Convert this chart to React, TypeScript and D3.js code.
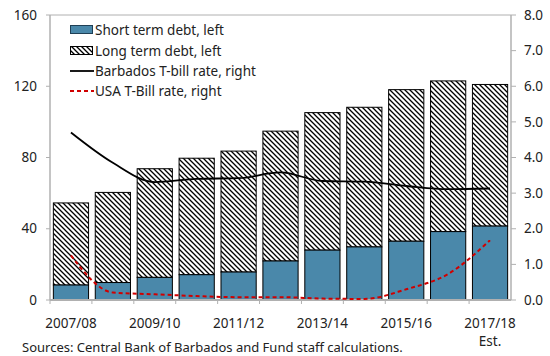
import React from "react";
import * as d3 from "d3";

const categories = ["2007/08","2008/09","2009/10","2010/11","2011/12","2012/13","2013/14","2014/15","2015/16","2016/17","2017/18"];
const tickLabels = ["2007/08","","2009/10","","2011/12","","2013/14","","2015/16","","2017/18"];
const shortTerm = [8.4, 9.8, 12.7, 14.2, 15.7, 21.9, 28.0, 29.8, 33.0, 38.4, 41.5];
const totalDebt = [54.5, 60.4, 73.7, 79.6, 83.6, 94.8, 105.2, 108.2, 118.1, 123.0, 121.0];
const barbadosRate = [4.70, 3.85, 3.31, 3.40, 3.42, 3.58, 3.34, 3.32, 3.20, 3.11, 3.13];
const usaRate = [1.25, 0.21, 0.16, 0.11, 0.08, 0.08, 0.04, 0.03, 0.30, 0.73, 1.68];
const leftTicks = [0, 40, 80, 120, 160];
const rightTicks = [0, 1, 2, 3, 4, 5, 6, 7, 8];

const W = 550, H = 356;
const L = 50, R = 511, T = 15, B = 300;
const FONT = "'Noto Sans', sans-serif";
const BLUE = "#4a88aa";
const AXIS = "#b0b0b0";

export default function App() {
  const x = d3.scaleBand<string>().domain(categories).range([L, R]).paddingInner(0.16).paddingOuter(0.08);
  const yL = d3.scaleLinear().domain([0, 160]).range([B, T]);
  const yR = d3.scaleLinear().domain([0, 8]).range([B, T]);
  const cx = (i: number) => (x(categories[i]) as number) + x.bandwidth() / 2;
  const barbLine = d3.line<number>().x((_, i) => cx(i)).y(d => yR(d)).curve(d3.curveMonotoneX);
  const usaLine = d3.line<number>().x((_, i) => cx(i)).y(d => yR(d)).curve(d3.curveMonotoneX);
  const step = x.step();

  return (
    <svg width={W} height={H} style={{ position: "absolute", left: 0, top: 0, background: "#fff" }} fontFamily={FONT}>
      <defs>
        <pattern id="hatch" patternUnits="userSpaceOnUse" width="5" height="5">
          <rect width="5" height="5" fill="#fff" />
          <path d="M-1,-1 L6,6 M-1,4 L1,6 M4,-1 L6,1" stroke="#000" strokeWidth="1.3" />
        </pattern>
      </defs>
      <line x1={L} x2={R} y1={T} y2={T} stroke={AXIS} strokeWidth={1} />
      <line x1={L} x2={L} y1={T} y2={B} stroke={AXIS} strokeWidth={1.5} />
      <line x1={R} x2={R} y1={T} y2={B} stroke={AXIS} strokeWidth={1.5} />
      {leftTicks.map(t => (
        <g key={"l" + t}>
          <line x1={L - 4} x2={L} y1={yL(t)} y2={yL(t)} stroke={AXIS} />
          <text x={37} y={yL(t)} dy="0.35em" textAnchor="end" fontSize={13.5} fill="#222">{t}</text>
        </g>
      ))}
      {rightTicks.map(t => (
        <g key={"r" + t}>
          <line x1={R} x2={R + 5} y1={yR(t)} y2={yR(t)} stroke={AXIS} />
          <text x={524} y={yR(t)} dy="0.35em" textAnchor="start" fontSize={13.5} fill="#222">{t.toFixed(1)}</text>
        </g>
      ))}
      {categories.map((c, i) => (
        <g key={c}>
          <rect x={x(c)} y={yL(totalDebt[i])} width={x.bandwidth()} height={yL(shortTerm[i]) - yL(totalDebt[i])} fill="url(#hatch)" stroke="#000" strokeWidth={1} />
          <rect x={x(c)} y={yL(shortTerm[i])} width={x.bandwidth()} height={B - yL(shortTerm[i])} fill={BLUE} stroke="#000" strokeWidth={1} />
        </g>
      ))}
      <line x1={L} x2={R} y1={B} y2={B} stroke={AXIS} strokeWidth={2} />
      {categories.map((c) => (
        <line key={"bt" + c} x1={(x(c) as number) - step * 0.08} x2={(x(c) as number) - step * 0.08} y1={B} y2={B + 4} stroke={AXIS} />
      ))}
      {tickLabels.map((t, i) => t ? (
        <text key={"xl" + i} x={cx(i)} y={323} dy="0.35em" textAnchor="middle" fontSize={13.5} fill="#222">{t}</text>
      ) : null)}
      <text x={cx(10)} y={341} dy="0.35em" textAnchor="middle" fontSize={13.5} fill="#222">Est.</text>
      <path d={barbLine(barbadosRate) || ""} fill="none" stroke="#000" strokeWidth={1.8} />
      <path d={usaLine(usaRate) || ""} fill="none" stroke="#d00000" strokeWidth={2} strokeDasharray="4,3" />
      <g fontSize={13.5} fill="#222">
        <rect x={70.5} y={25.5} width={22} height={8} fill={BLUE} stroke="#1f3f55" />
        <text x={95} y={30} dy="0.35em">Short term debt, left</text>
        <rect x={70.5} y={46.5} width={22} height={8} fill="url(#hatch)" stroke="#000" />
        <text x={95} y={51} dy="0.35em">Long term debt, left</text>
        <line x1={70} x2={94} y1={71} y2={71} stroke="#000" strokeWidth={1.8} />
        <text x={95} y={71} dy="0.35em">Barbados T-bill rate, right</text>
        <line x1={70} x2={94} y1={91} y2={91} stroke="#d00000" strokeWidth={2} strokeDasharray="4,3" />
        <text x={95} y={91} dy="0.35em">USA T-Bill rate, right</text>
      </g>
      <text x={22} y={352} fontSize={13} fill="#222">Sources: Central Bank of Barbados and Fund staff calculations.</text>
    </svg>
  );
}
